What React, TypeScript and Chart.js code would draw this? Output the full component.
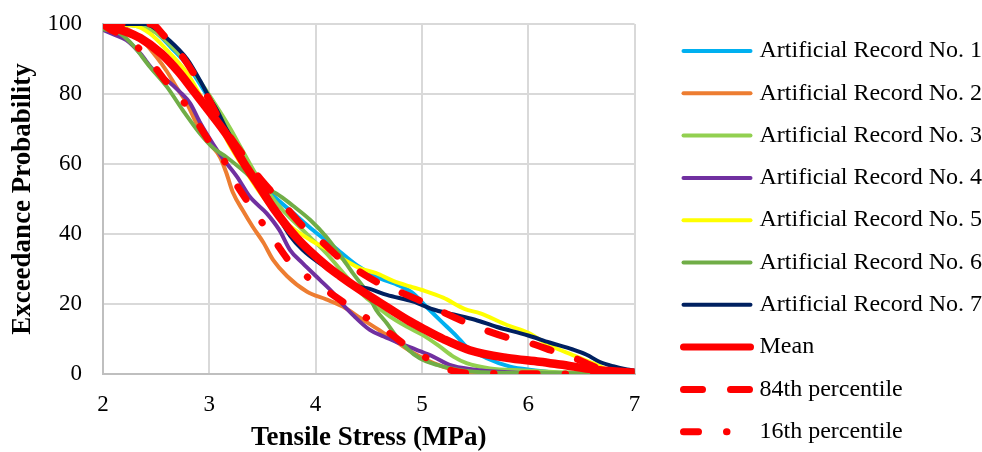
import React, { useEffect, useRef } from 'react';
import { Chart, registerables } from 'chart.js';

Chart.register(...registerables);

type Pt = [number, number];

// ---- Data ----
const xTickValues = [2, 3, 4, 5, 6, 7];
const yTickValues = [0, 20, 40, 60, 80, 100];

const seriesNames = [
  'Artificial Record No. 1',
  'Artificial Record No. 2',
  'Artificial Record No. 3',
  'Artificial Record No. 4',
  'Artificial Record No. 5',
  'Artificial Record No. 6',
  'Artificial Record No. 7',
  'Mean',
  '84th percentile',
  '16th percentile',
];

const record1: Pt[] = [
  [2.0, 100], [2.35, 100], [2.5, 97.5], [2.65, 93], [2.8, 88], [2.95, 81], [3.1, 73.5],
  [3.25, 65.5], [3.35, 60.5], [3.48, 55], [3.6, 51], [3.79, 46], [3.98, 41], [4.17, 36.4],
  [4.39, 31], [4.57, 27.8], [4.79, 25.2], [4.92, 23], [5.0, 20.5], [5.17, 15.4], [5.33, 10.7],
  [5.42, 7.8], [5.61, 4.5], [5.83, 2.1], [6.05, 1.1], [6.3, 0.3], [7.0, 0],
];
const record2: Pt[] = [
  [2.0, 100], [2.2, 99], [2.35, 96], [2.5, 90.7], [2.6, 86.5], [2.69, 82], [2.79, 77.3],
  [2.88, 71.6], [3.0, 66], [3.1, 62], [3.16, 57.5], [3.22, 52], [3.32, 46.5], [3.41, 42],
  [3.51, 37.5], [3.6, 32.6], [3.73, 28], [3.92, 23.5], [4.1, 21.3], [4.26, 19.2], [4.42, 16],
  [4.6, 12.5], [4.76, 9.2], [4.92, 6], [5.11, 3.1], [5.3, 1.2], [5.55, 0.3], [7.0, 0],
];
const record3: Pt[] = [
  [2.0, 100], [2.3, 99.5], [2.5, 97.5], [2.65, 93.5], [2.8, 88.5], [2.95, 82], [3.1, 75],
  [3.2, 70], [3.3, 64.5], [3.42, 58], [3.55, 52], [3.7, 46.5], [3.9, 40.5], [4.1, 34.5],
  [4.3, 27.5], [4.45, 22.5], [4.54, 20.2], [4.7, 16.4], [4.86, 13.5], [5.01, 11.1], [5.17, 7.8],
  [5.3, 4.9], [5.42, 3.1], [5.64, 1.6], [5.95, 1.0], [6.3, 0.5], [7.0, 0.2],
];
const record4: Pt[] = [
  [2.0, 98.3], [2.1, 97], [2.22, 95.4], [2.35, 91.6], [2.47, 87], [2.6, 84], [2.72, 80.7],
  [2.82, 77.3], [2.91, 72], [3.04, 65.5], [3.13, 61.5], [3.26, 56.4], [3.38, 50.7], [3.54, 45.9],
  [3.66, 41.1], [3.76, 35.4], [3.88, 31.6], [4.04, 26.9], [4.17, 23], [4.23, 20.7], [4.35, 16.9],
  [4.51, 12.6], [4.64, 10.7], [4.79, 8.8], [4.95, 6.9], [5.11, 4.9], [5.26, 2.6], [5.48, 1.3],
  [5.8, 0.5], [6.2, 0.1], [7.0, 0],
];
const record5: Pt[] = [
  [2.0, 100], [2.3, 99.5], [2.44, 97.3], [2.6, 92.6], [2.79, 86], [2.94, 78.3], [3.07, 72.6],
  [3.19, 65.5], [3.3, 60], [3.45, 53], [3.6, 47], [3.75, 42.5], [3.95, 38.3], [4.1, 35.8],
  [4.25, 33], [4.42, 30.2], [4.57, 28.8], [4.73, 26.6], [4.89, 25], [5.0, 24], [5.2, 21.8],
  [5.4, 18.6], [5.55, 17.3], [5.8, 14], [6.0, 11.8], [6.2, 8.2], [6.42, 5.4], [6.61, 3.1],
  [6.8, 0.7], [7.0, 0.3],
];
const record6: Pt[] = [
  [2.0, 98.5], [2.16, 97.3], [2.28, 94], [2.44, 87.8], [2.6, 82.1], [2.75, 75.4], [2.91, 68.8],
  [3.04, 64.5], [3.16, 62], [3.35, 57.3], [3.5, 53.3], [3.63, 51.6], [3.79, 48], [3.95, 44],
  [4.1, 39.2], [4.23, 34], [4.35, 28.8], [4.48, 23.5], [4.57, 18.3], [4.67, 14.5], [4.76, 10.7],
  [4.86, 7.3], [4.98, 4.5], [5.14, 2.6], [5.36, 1.1], [5.64, 0.4], [6.2, 0.2], [7.0, 0.1],
];
const record7: Pt[] = [
  [2.0, 100], [2.4, 100], [2.5, 98.5], [2.6, 96], [2.79, 90], [2.91, 84], [3.0, 79],
  [3.07, 75.5], [3.16, 70], [3.26, 65], [3.41, 56.4], [3.51, 53], [3.6, 48], [3.66, 44.5],
  [3.76, 39.5], [3.88, 35.4], [4.04, 31.6], [4.23, 27.8], [4.35, 25.4], [4.51, 24.3],
  [4.67, 22.6], [4.92, 20.7], [5.1, 18.5], [5.3, 17], [5.5, 15.5], [5.7, 13.5], [6.0, 11],
  [6.2, 9], [6.42, 7], [6.55, 5.5], [6.67, 3.5], [6.8, 2.2], [6.93, 1.3], [7.0, 1.0],
];
const meanCurve: Pt[] = [
  [2.0, 100], [2.15, 98.5], [2.35, 96], [2.55, 91.5], [2.72, 86], [2.86, 80.5], [3.0, 75],
  [3.16, 68.5], [3.33, 60], [3.45, 54.5], [3.6, 47.5], [3.82, 39], [4.1, 31], [4.23, 28],
  [4.42, 24], [4.6, 20.5], [4.86, 15.5], [5.04, 12.5], [5.2, 10], [5.45, 6.8], [5.8, 4.6],
  [6.11, 3.5], [6.3, 2.7], [6.67, 1.1], [7.0, 0.4],
];
const p84Curve: Pt[] = [
  [2.0, 100], [2.45, 100], [2.58, 96.5], [2.74, 91], [2.86, 85.5], [2.97, 80], [3.08, 73.5],
  [3.18, 68.5], [3.32, 62.5], [3.44, 57.3], [3.6, 51.6], [3.73, 47.3], [3.9, 41.6], [4.04, 38.3],
  [4.23, 33], [4.39, 29.7], [4.6, 25.9], [4.79, 23.5], [5.0, 20.7], [5.19, 17.8], [5.4, 14.9],
  [5.59, 12.6], [5.83, 10.2], [6.02, 8.8], [6.25, 6.4], [6.44, 4.5], [6.67, 1.6], [7.0, 0.2],
];
const p16Curve: Pt[] = [
  [2.0, 100], [2.03, 99.2], [2.25, 95.4], [2.43, 90], [2.58, 84], [2.71, 79.7], [2.86, 73.2],
  [3.0, 66.4], [3.12, 62], [3.23, 55.4], [3.37, 48.8], [3.48, 44], [3.62, 37.8], [3.77, 31.6],
  [3.92, 27.8], [4.13, 23.3], [4.32, 19.3], [4.48, 16], [4.7, 11.6], [4.89, 7.3], [5.08, 4],
  [5.3, 0.8], [5.5, 0.2], [7.0, 0],
];

const seriesData: Pt[][] = [
  record1, record2, record3, record4, record5, record6, record7, meanCurve, p84Curve, p16Curve,
];

// ---- Styles ----
const seriesColors = [
  '#00B0F0', '#ED7D31', '#92D050', '#7030A0', '#FFFF00', '#70AD47', '#002060',
  '#FF0000', '#FF0000', '#FF0000',
];
const seriesWidths = [4, 4, 4, 4, 4, 4, 4, 8.5, 7, 7];
const seriesDashes: number[][] = [[], [], [], [], [], [], [], [], [19, 28], [15, 28, 0.5, 28]];

const FONT = '"Liberation Serif", "Times New Roman", Times, serif';

const legendPlugin = {
  id: 'sideLegend',
  afterDraw(chart: any) {
    const { ctx, chartArea } = chart;
    const x0 = chartArea.right + 49;
    const x1 = chartArea.right + 116;
    const tx = chartArea.right + 125;
    const top = 51;
    const step = 42.3;
    ctx.save();
    chart.data.datasets.forEach((d: any, i: number) => {
      const y = top + i * step;
      ctx.beginPath();
      ctx.setLineDash(d.borderDash || []);
      ctx.lineCap = 'round';
      ctx.lineWidth = i < 7 ? 4 : 7;
      ctx.strokeStyle = d.borderColor;
      ctx.moveTo(x0, y);
      ctx.lineTo(x1, y);
      ctx.stroke();
      ctx.setLineDash([]);
      ctx.fillStyle = '#000';
      ctx.font = `24px ${FONT}`;
      ctx.textAlign = 'left';
      ctx.textBaseline = 'middle';
      ctx.fillText(d.label, tx, y);
    });
    ctx.restore();
  },
};

export default function App() {
  const canvasRef = useRef<HTMLCanvasElement | null>(null);

  useEffect(() => {
    if (!canvasRef.current) return;
    const n = seriesData.length;
    const chart = new Chart(canvasRef.current, {
      type: 'line',
      data: {
        datasets: seriesData.map((pts, i) => ({
          label: seriesNames[i],
          data: pts.map(([x, y]) => ({ x, y })),
          borderColor: seriesColors[i],
          backgroundColor: seriesColors[i],
          borderWidth: seriesWidths[i],
          borderDash: seriesDashes[i],
          borderCapStyle: 'round' as const,
          borderJoinStyle: 'round' as const,
          pointRadius: 0,
          cubicInterpolationMode: 'monotone' as const,
          fill: false,
          order: n - i,
        })),
      },
      options: {
        animation: false,
        responsive: false,
        events: [],
        layout: { padding: { left: 0, right: 347.5, top: 24, bottom: 0 } },
        plugins: {
          legend: { display: false },
          tooltip: { enabled: false },
        },
        scales: {
          x: {
            type: 'linear',
            min: 2,
            max: 7,
            afterBuildTicks: (scale: any) => {
              scale.ticks = xTickValues.map((v) => ({ value: v }));
            },
            afterFit: (scale: any) => {
              scale.height = 78;
            },
            ticks: {
              color: '#000',
              font: { family: FONT, size: 23 },
              padding: 17,
              maxRotation: 0,
            },
            grid: { color: '#D9D9D9', lineWidth: 2, drawTicks: false },
            border: { color: '#BFBFBF', width: 2 },
            title: {
              display: true,
              text: 'Tensile Stress (MPa)',
              color: '#000',
              font: { family: FONT, size: 27, weight: 'bold', lineHeight: 1 },
              padding: { top: 0, bottom: 0 },
            },
          },
          y: {
            type: 'linear',
            min: 0,
            max: 100,
            afterBuildTicks: (scale: any) => {
              scale.ticks = yTickValues.map((v) => ({ value: v }));
            },
            afterFit: (scale: any) => {
              scale.width = 103;
              scale.paddingTop = 0;
              scale.paddingBottom = 0;
            },
            ticks: {
              color: '#000',
              font: { family: FONT, size: 23 },
              padding: 21,
            },
            grid: { color: '#D9D9D9', lineWidth: 2, drawTicks: false },
            border: { color: '#BFBFBF', width: 2 },
            title: {
              display: true,
              text: 'Exceedance Probability',
              color: '#000',
              font: { family: FONT, size: 27, weight: 'bold', lineHeight: 1 },
              padding: { top: 10, bottom: 0 },
            },
          },
        },
      },
      plugins: [legendPlugin],
    } as any);
    return () => chart.destroy();
  }, []);

  return (
    <div style={{ position: 'absolute', left: 0, top: 0, width: 982, height: 452, background: '#fff' }}>
      <canvas ref={canvasRef} width={982} height={452} style={{ display: 'block' }} />
    </div>
  );
}
